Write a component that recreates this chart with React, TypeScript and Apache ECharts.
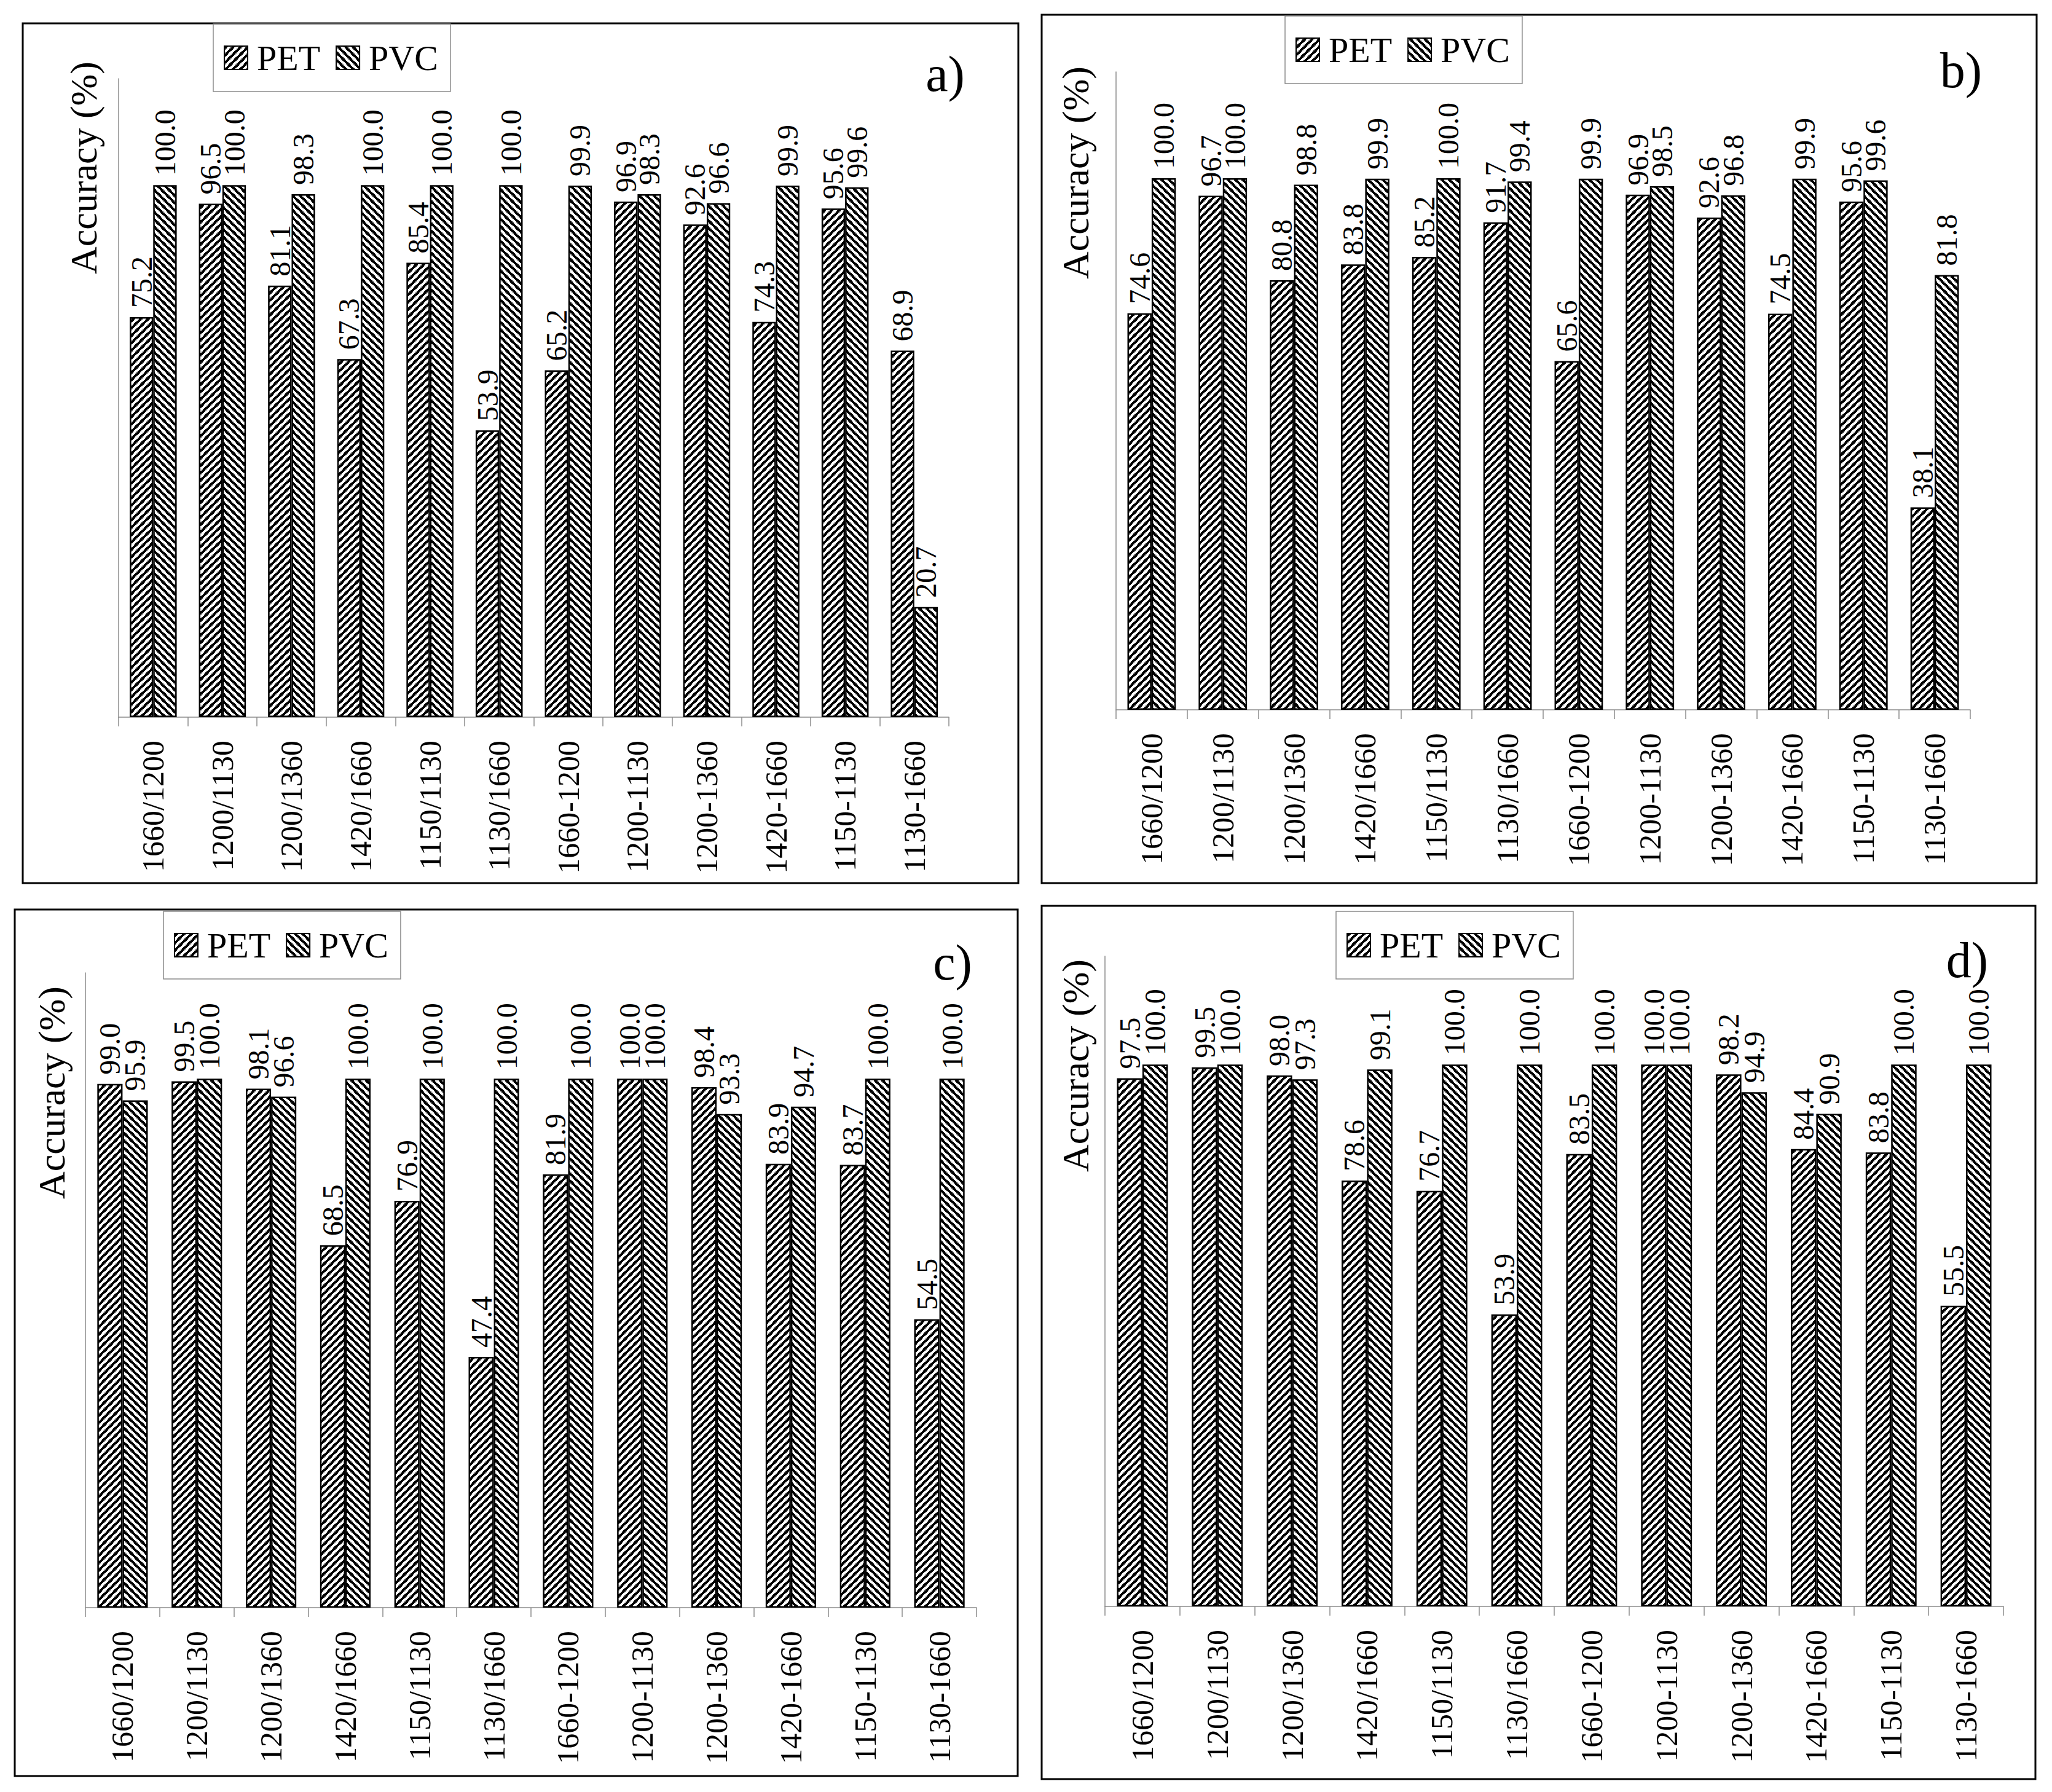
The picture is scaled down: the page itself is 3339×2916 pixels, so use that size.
import React, { useEffect, useRef } from "react";
import * as echarts from "echarts";

const categories = [
  "1660/1200", "1200/1130", "1200/1360", "1420/1660", "1150/1130", "1130/1660",
  "1660-1200", "1200-1130", "1200-1360", "1420-1660", "1150-1130", "1130-1660",
];

const petA = [75.2, 96.5, 81.1, 67.3, 85.4, 53.9, 65.2, 96.9, 92.6, 74.3, 95.6, 68.9];
const pvcA = [100.0, 100.0, 98.3, 100.0, 100.0, 100.0, 99.9, 98.3, 96.6, 99.9, 99.6, 20.7];
const petB = [74.6, 96.7, 80.8, 83.8, 85.2, 91.7, 65.6, 96.9, 92.6, 74.5, 95.6, 38.1];
const pvcB = [100.0, 100.0, 98.8, 99.9, 100.0, 99.4, 99.9, 98.5, 96.8, 99.9, 99.6, 81.8];
const petC = [99.0, 99.5, 98.1, 68.5, 76.9, 47.4, 81.9, 100.0, 98.4, 83.9, 83.7, 54.5];
const pvcC = [95.9, 100.0, 96.6, 100.0, 100.0, 100.0, 100.0, 100.0, 93.3, 94.7, 100.0, 100.0];
const petD = [97.5, 99.5, 98.0, 78.6, 76.7, 53.9, 83.5, 100.0, 98.2, 84.4, 83.8, 55.5];
const pvcD = [100.0, 100.0, 97.3, 99.1, 100.0, 100.0, 100.0, 100.0, 94.9, 90.9, 100.0, 100.0];

const seriesNames = ["PET", "PVC"];
const panelLabels = ["a)", "b)", "c)", "d)"];
const yTitle = "Accuracy (%)";
const yMin = 0;
const yMax = 120;

const FONT = '"Liberation Serif", "Times New Roman", serif';

const panels = [
  {
    pet: petA, pvc: pvcA, label: panelLabels[0],
    box: [37, 38, 1657, 1437],
    grid: { left: 193, top: 128, width: 1351, height: 1039 },
    legend: { left: 347, top: 39 },
    title: [136, 273],
    tag: [1538, 120],
  },
  {
    pet: petB, pvc: pvcB, label: panelLabels[1],
    box: [1695, 24, 3314, 1437],
    grid: { left: 1816, top: 117, width: 1390, height: 1038 },
    legend: { left: 2091, top: 26 },
    title: [1750, 281],
    tag: [3191, 114],
  },
  {
    pet: petC, pvc: pvcC, label: panelLabels[2],
    box: [24, 1480, 1656, 2890],
    grid: { left: 139, top: 1583, width: 1450, height: 1033 },
    legend: { left: 266, top: 1483 },
    title: [84, 1778],
    tag: [1550, 1566],
  },
  {
    pet: petD, pvc: pvcD, label: panelLabels[3],
    box: [1695, 1474, 3312, 2895],
    grid: { left: 1798, top: 1556, width: 1462, height: 1058 },
    legend: { left: 2174, top: 1483 },
    title: [1750, 1734],
    tag: [3201, 1562],
  },
];

// stepped diagonal hatch tile; dir 1 => "/" , dir -1 => "\"
function makeTile(dir: number) {
  const T = 12;
  const c = document.createElement("canvas");
  c.width = T;
  c.height = T;
  const ctx = c.getContext("2d")!;
  ctx.fillStyle = "#fff";
  ctx.fillRect(0, 0, T, T);
  ctx.fillStyle = "#000";
  const n = T / 2;
  for (let bx = 0; bx < n; bx++) {
    for (let by = 0; by < n; by++) {
      const k = dir > 0 ? (bx + by) % n : ((bx - by) % n + n) % n;
      if (k < n / 2) ctx.fillRect(bx * 2, by * 2, 2, 2);
    }
  }
  return c;
}

export default function App() {
  const ref = useRef<HTMLDivElement>(null);

  useEffect(() => {
    document.body.style.margin = "0";
    if (!ref.current) return;
    const chart = echarts.init(ref.current, undefined, { renderer: "svg" });

    const petFill = { image: makeTile(1), repeat: "repeat" };
    const pvcFill = { image: makeTile(-1), repeat: "repeat" };

    const grids: any[] = [];
    const xAxes: any[] = [];
    const yAxes: any[] = [];
    const series: any[] = [];
    const legends: any[] = [];
    const graphics: any[] = [];

    const axisLineStyle = { color: "#8c8c8c", width: 1.5 };

    panels.forEach((p, i) => {
      grids.push({ ...p.grid, containLabel: false });
      xAxes.push({
        type: "category",
        gridIndex: i,
        data: categories,
        axisLine: { show: true, lineStyle: axisLineStyle },
        axisTick: { show: true, length: 15, lineStyle: axisLineStyle },
        axisLabel: {
          interval: 0,
          rotate: 90,
          margin: 38,
          fontSize: 50,
          fontFamily: FONT,
          color: "#000",
        },
        splitLine: { show: false },
      });
      yAxes.push({
        type: "value",
        gridIndex: i,
        min: yMin,
        max: yMax,
        axisLine: { show: true, lineStyle: axisLineStyle },
        axisTick: { show: false },
        axisLabel: { show: false },
        splitLine: { show: false },
      });
      const labelCfg = {
        show: true,
        position: "top",
        rotate: 90,
        align: "left",
        verticalAlign: "middle",
        distance: 15,
        fontSize: 48,
        fontFamily: FONT,
        color: "#000",
        formatter: (d: any) => Number(d.value).toFixed(1),
      };
      series.push({
        name: seriesNames[0],
        type: "bar",
        xAxisIndex: i,
        yAxisIndex: i,
        data: p.pet,
        barGap: "0%",
        barCategoryGap: "32%",
        itemStyle: { color: petFill, borderColor: "#000", borderWidth: 2.5 },
        label: labelCfg,
      });
      series.push({
        name: seriesNames[1],
        type: "bar",
        xAxisIndex: i,
        yAxisIndex: i,
        data: p.pvc,
        barGap: "0%",
        barCategoryGap: "32%",
        itemStyle: { color: pvcFill, borderColor: "#000", borderWidth: 2.5 },
        label: labelCfg,
      });
      legends.push({
        left: p.legend.left,
        top: p.legend.top,
        orient: "horizontal",
        data: seriesNames,
        icon: "rect",
        itemWidth: 38,
        itemHeight: 38,
        itemGap: 25,
        selectedMode: false,
        borderColor: "#8c8c8c",
        borderWidth: 1.5,
        padding: [26, 20, 26, 17],
        textStyle: {
          fontFamily: FONT,
          fontSize: 58,
          lineHeight: 40,
          color: "#000",
          padding: [0, 0, 0, 10],
        },
      });
      const [x1, y1, x2, y2] = p.box;
      graphics.push({
        type: "rect",
        shape: { x: x1, y: y1, width: x2 - x1, height: y2 - y1 },
        style: { fill: "none", stroke: "#000", lineWidth: 3 },
        z: 0,
      });
      graphics.push({
        type: "text",
        x: p.title[0],
        y: p.title[1],
        rotation: Math.PI / 2,
        style: {
          text: yTitle,
          font: `62px ${FONT}`,
          fill: "#000",
          align: "center",
          verticalAlign: "middle",
        },
      });
      graphics.push({
        type: "text",
        x: p.tag[0],
        y: p.tag[1],
        style: {
          text: p.label,
          font: `82px ${FONT}`,
          fill: "#000",
          align: "center",
          verticalAlign: "middle",
        },
      });
    });

    chart.setOption({
      animation: false,
      backgroundColor: "#fff",
      grid: grids,
      xAxis: xAxes,
      yAxis: yAxes,
      legend: legends,
      series,
      graphic: graphics,
    });

    return () => chart.dispose();
  }, []);

  return (
    <div
      ref={ref}
      style={{ position: "absolute", left: 0, top: 0, width: 3339, height: 2916 }}
    />
  );
}
